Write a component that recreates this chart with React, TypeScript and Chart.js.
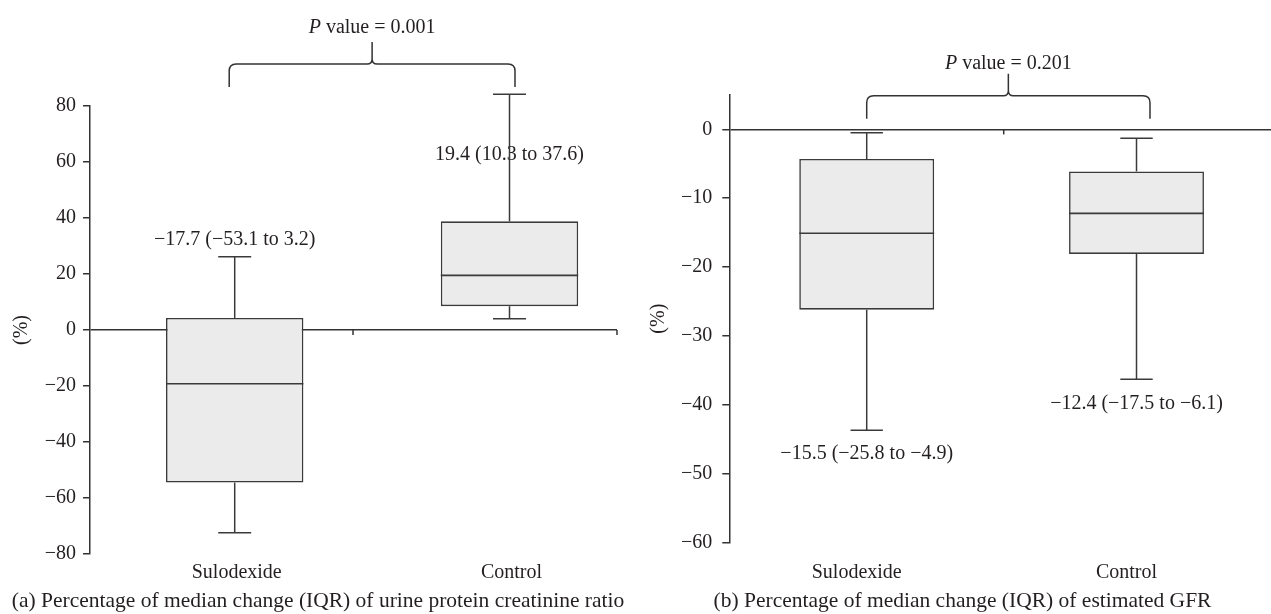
import React, { useEffect, useRef } from 'react';
import { Chart, registerables } from 'chart.js';

Chart.register(...registerables);

const FONT_FAMILY = '"Liberation Serif", "Times New Roman", serif';
const TEXT = '#231f20';
const LINE = '#3a3a3a';

Chart.defaults.font.family = FONT_FAMILY;
Chart.defaults.font.size = 20;
Chart.defaults.color = TEXT;

// ---------- data ----------
const categories = ['Sulodexide', 'Control'];

// (a) urine protein creatinine ratio, % change
const upcrLowerWhisker = [-72.4, 4.0];
const upcrQ1 = [-54.5, 8.5];
const upcrMedian = [-19.2, 19.5];
const upcrQ3 = [4.3, 38.8];
const upcrUpperWhisker = [26.2, 84.2];
const upcrNotes = ['\u221217.7 (\u221253.1 to 3.2)', '19.4 (10.3 to 37.6)'];
const upcrTicks = [-80, -60, -40, -20, 0, 20, 40, 60, 80];
const upcrP = '0.001';
const upcrCaption = '(a) Percentage of median change (IQR) of urine protein creatinine ratio';

// (b) estimated GFR, % change
const gfrLowerWhisker = [-43.7, -36.3];
const gfrQ1 = [-26.2, -18.1];
const gfrMedian = [-15.1, -12.2];
const gfrQ3 = [-4.3, -6.1];
const gfrUpperWhisker = [-0.5, -1.3];
const gfrNotes = ['\u221215.5 (\u221225.8 to \u22124.9)', '\u221212.4 (\u221217.5 to \u22126.1)'];
const gfrTicks = [-60, -50, -40, -30, -20, -10, 0];
const gfrP = '0.201';
const gfrCaption = '(b) Percentage of median change (IQR) of estimated GFR';

// ---------- layout / style configuration ----------
const panelA = {
  left: 0, width: 636,
  lo: upcrLowerWhisker, q1: upcrQ1, med: upcrMedian, q3: upcrQ3, hi: upcrUpperWhisker,
  notes: upcrNotes, ticks: upcrTicks, p: upcrP,
  yMin: -80, yMax: 80, xMin: 0.4734, xMax: 2.3912,
  padTop: 106, padRight: 19, yAxisWidth: 90, xAxisHeight: 60,
  labelPad: -1.75, labelOffset: 2, tickPad: 7, titlePad: 10,
  zeroTicks: [1.4305, 2.3912],
  noteY: [32.1, 62.5],
  braceX: [0.98, 2.02], braceBottom: 86.8, pGap: 8.5,
  caption: upcrCaption, captionLeft: 0, captionWidth: 636,
};

const panelB = {
  left: 636, width: 635,
  lo: gfrLowerWhisker, q1: gfrQ1, med: gfrMedian, q3: gfrQ3, hi: gfrUpperWhisker,
  notes: gfrNotes, ticks: gfrTicks, p: gfrP,
  yMin: -60, yMax: 5, xMin: 0.4907, xMax: 2.4985,
  padTop: 95, padRight: 0, yAxisWidth: 93.3, xAxisHeight: 71.7,
  labelPad: 10, labelOffset: -10, tickPad: 10, titlePad: 11,
  zeroTicks: [1.5078],
  noteY: [-47.2, -39.9],
  braceX: [1.0, 2.05], braceBottom: 1.55, pGap: 5,
  caption: gfrCaption, captionLeft: 636, captionWidth: 653,
};

const fmt = (v: number) => (v < 0 ? '\u2212' + Math.abs(v) : String(v));

function drawBrace(ctx: CanvasRenderingContext2D, xl: number, xr: number, yb: number) {
  const h = 23;
  const r = 7;
  const rc = 5;
  const yl = yb - h;
  const xm = (xl + xr) / 2;
  const yt = yl - 22;
  ctx.beginPath();
  ctx.moveTo(xl, yb);
  ctx.lineTo(xl, yl + r);
  ctx.quadraticCurveTo(xl, yl, xl + r, yl);
  ctx.lineTo(xm - rc, yl);
  ctx.quadraticCurveTo(xm, yl, xm, yl - rc);
  ctx.lineTo(xm, yt);
  ctx.moveTo(xr, yb);
  ctx.lineTo(xr, yl + r);
  ctx.quadraticCurveTo(xr, yl, xr - r, yl);
  ctx.lineTo(xm + rc, yl);
  ctx.quadraticCurveTo(xm, yl, xm, yl - rc);
  ctx.stroke();
  return { xm, yt };
}

function makeBoxPlugin(cfg: any) {
  return {
    id: 'boxExtras',
    beforeDatasetsDraw(chart: any) {
      const { ctx, scales } = chart;
      const x = scales.x;
      const y = scales.y;
      const y0 = y.getPixelForValue(0);
      ctx.save();
      ctx.strokeStyle = '#333';
      ctx.lineWidth = 1.5;
      for (const v of cfg.zeroTicks) {
        const px = x.getPixelForValue(v);
        ctx.beginPath();
        ctx.moveTo(px, y0);
        ctx.lineTo(px, y0 + 5);
        ctx.stroke();
      }
      ctx.restore();
    },
    afterDatasetsDraw(chart: any) {
      const { ctx, scales } = chart;
      const x = scales.x;
      const y = scales.y;
      const yp = (v: number) => y.getPixelForValue(v);
      const meta = chart.getDatasetMeta(0);
      ctx.save();
      // notes
      ctx.font = `20px ${FONT_FAMILY}`;
      ctx.fillStyle = TEXT;
      ctx.textAlign = 'center';
      ctx.textBaseline = 'middle';
      cfg.notes.forEach((t: string, i: number) => {
        ctx.fillText(t, x.getPixelForValue(i + 1), yp(cfg.noteY[i]));
      });
      // whiskers and medians
      ctx.strokeStyle = LINE;
      ctx.lineWidth = 1.5;
      const seg = (x1: number, y1: number, x2: number, y2: number) => {
        ctx.beginPath();
        ctx.moveTo(x1, y1);
        ctx.lineTo(x2, y2);
        ctx.stroke();
      };
      const capHalf = Math.abs(x.getPixelForValue(1.06) - x.getPixelForValue(1));
      categories.forEach((_, i) => {
        const cx = x.getPixelForValue(i + 1);
        seg(cx, yp(cfg.q3[i]), cx, yp(cfg.hi[i]));
        seg(cx - capHalf, yp(cfg.hi[i]), cx + capHalf, yp(cfg.hi[i]));
        seg(cx, yp(cfg.q1[i]), cx, yp(cfg.lo[i]));
        seg(cx - capHalf, yp(cfg.lo[i]), cx + capHalf, yp(cfg.lo[i]));
        const bar = meta.data[i];
        const hw = bar.width / 2;
        ctx.lineWidth = 1.6;
        seg(cx - hw, yp(cfg.med[i]), cx + hw, yp(cfg.med[i]));
        ctx.lineWidth = 1.5;
      });
      // brace + P value
      ctx.strokeStyle = '#333';
      ctx.lineWidth = 1.5;
      const { xm, yt } = drawBrace(
        ctx,
        x.getPixelForValue(cfg.braceX[0]),
        x.getPixelForValue(cfg.braceX[1]),
        yp(cfg.braceBottom)
      );
      const italic = `italic 20px ${FONT_FAMILY}`;
      const normal = `20px ${FONT_FAMILY}`;
      const rest = ' value = ' + cfg.p;
      ctx.font = italic;
      const wP = ctx.measureText('P').width;
      ctx.font = normal;
      const wR = ctx.measureText(rest).width;
      const start = xm - (wP + wR) / 2;
      const base = yt - cfg.pGap;
      ctx.textAlign = 'left';
      ctx.textBaseline = 'alphabetic';
      ctx.font = italic;
      ctx.fillText('P', start, base);
      ctx.font = normal;
      ctx.fillText(rest, start + wP, base);
      ctx.restore();
    },
  };
}

function BoxPanel({ cfg }: { cfg: any }) {
  const ref = useRef<HTMLCanvasElement>(null);
  useEffect(() => {
    if (!ref.current) return;
    const chart = new Chart(ref.current, {
      type: 'bar',
      data: {
        datasets: [
          {
            data: categories.map((_, i) => ({ x: i + 1, y: [cfg.q1[i], cfg.q3[i]] })) as any,
            backgroundColor: '#ebebeb',
            borderColor: LINE,
            borderWidth: 1.6,
            borderSkipped: false,
            barPercentage: 0.5,
            categoryPercentage: 1,
          },
        ],
      },
      options: {
        responsive: false,
        animation: false,
        events: [],
        layout: { padding: { top: cfg.padTop, right: cfg.padRight, left: 0, bottom: 0 } },
        plugins: { legend: { display: false }, tooltip: { enabled: false } },
        scales: {
          x: {
            type: 'linear',
            min: cfg.xMin,
            max: cfg.xMax,
            offset: false,
            grid: { display: false, offset: false },
            border: { display: false },
            afterBuildTicks: (s: any) => {
              s.ticks = categories.map((_, i) => ({ value: i + 1 }));
            },
            afterFit: (s: any) => {
              s.height = cfg.xAxisHeight;
            },
            ticks: {
              autoSkip: false,
              maxRotation: 0,
              minRotation: 0,
              padding: cfg.labelPad,
              labelOffset: cfg.labelOffset,
              color: TEXT,
              font: { size: 20, family: FONT_FAMILY },
              callback: (v: any) => categories[Math.round(Number(v)) - 1] ?? '',
            },
          },
          y: {
            type: 'linear',
            min: cfg.yMin,
            max: cfg.yMax,
            afterBuildTicks: (s: any) => {
              s.ticks = cfg.ticks.map((v: number) => ({ value: v }));
            },
            afterFit: (s: any) => {
              s.width = cfg.yAxisWidth;
            },
            border: { display: true, color: '#333', width: 1.5 },
            grid: {
              color: (c: any) => (c.tick && c.tick.value === 0 ? '#333' : 'rgba(0,0,0,0)'),
              lineWidth: 1.5,
              drawTicks: true,
              tickLength: 7,
              tickColor: '#333',
              tickWidth: 1.5,
            },
            ticks: {
              padding: cfg.tickPad,
              color: TEXT,
              font: { size: 20, family: FONT_FAMILY },
              callback: (v: any) => fmt(Number(v)),
            },
            title: {
              display: true,
              text: '(%)',
              color: TEXT,
              font: { size: 20, family: FONT_FAMILY },
              padding: { top: cfg.titlePad, bottom: 0 },
            },
          },
        },
      } as any,
      plugins: [makeBoxPlugin(cfg)],
    });
    return () => chart.destroy();
  }, [cfg]);

  return (
    <>
      <canvas
        ref={ref}
        width={cfg.width}
        height={614}
        style={{ position: 'absolute', left: cfg.left, top: 0, width: cfg.width, height: 614 }}
      />
      <div
        style={{
          position: 'absolute',
          left: cfg.captionLeft,
          top: 588.2,
          width: cfg.captionWidth,
          textAlign: 'center',
          fontFamily: FONT_FAMILY,
          fontSize: 21.5,
          lineHeight: '24px',
          color: TEXT,
          whiteSpace: 'nowrap',
        }}
      >
        {cfg.caption}
      </div>
    </>
  );
}

export default function App() {
  return (
    <div
      style={{
        position: 'absolute',
        left: 0,
        top: 0,
        width: 1271,
        height: 614,
        background: '#fff',
        overflow: 'hidden',
      }}
    >
      <BoxPanel cfg={panelA} />
      <BoxPanel cfg={panelB} />
    </div>
  );
}
